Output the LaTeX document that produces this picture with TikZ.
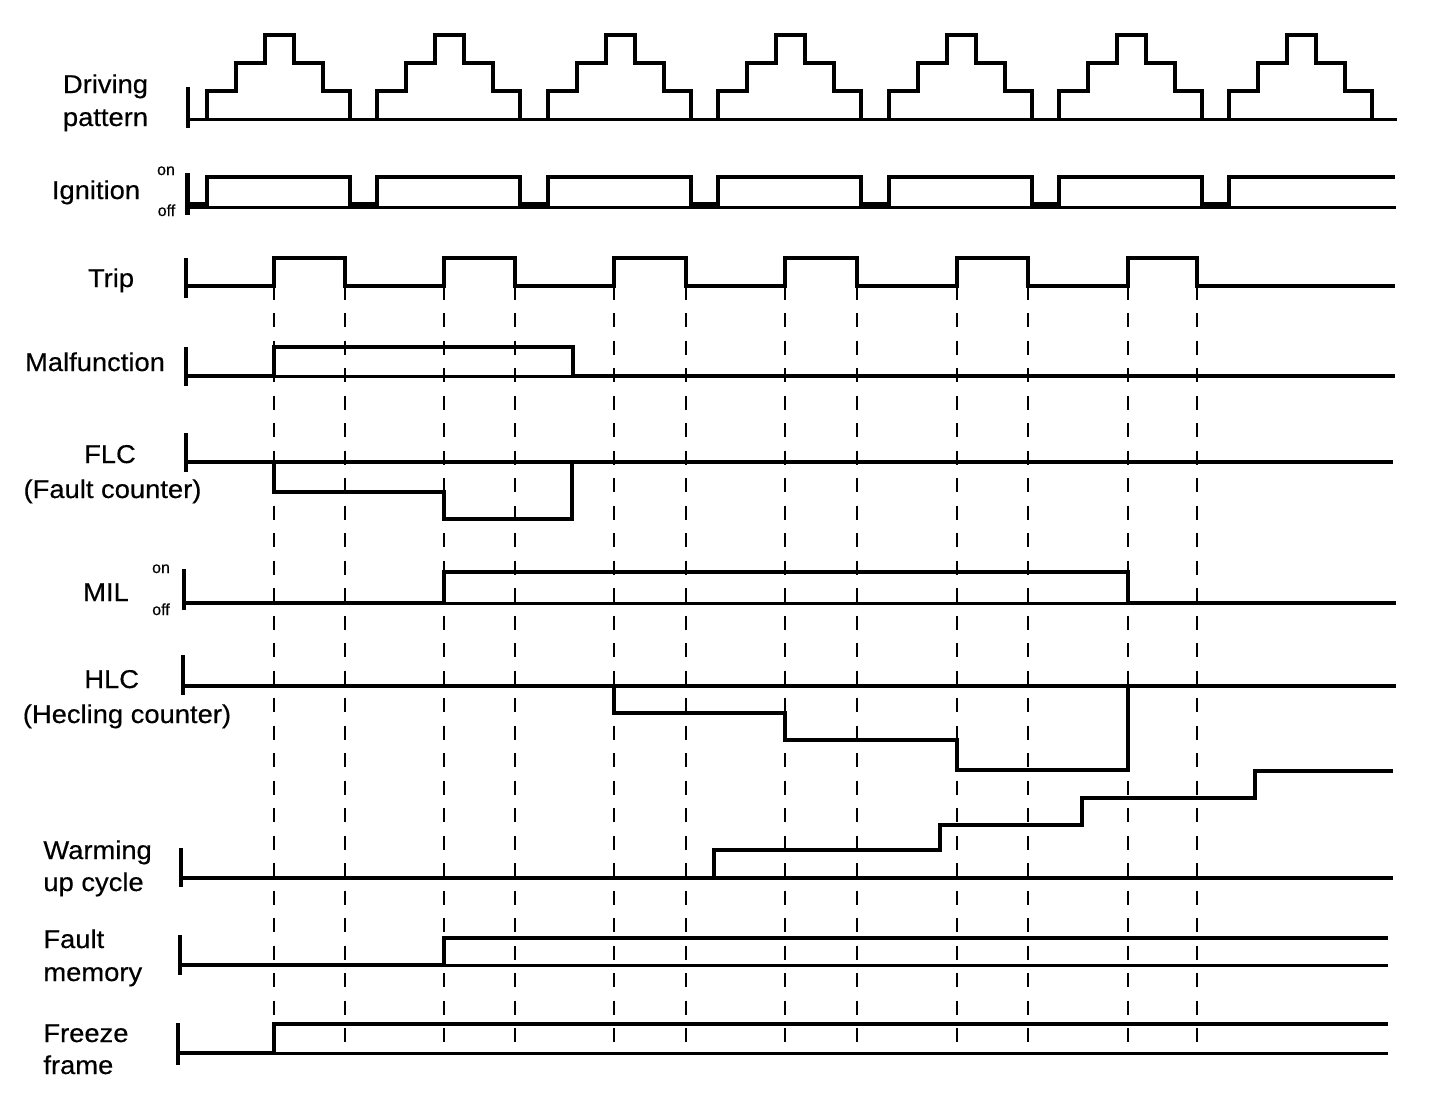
\documentclass[tikz,border=0pt]{standalone}
\usepackage{fontspec}
\setmainfont{Liberation Sans}[FakeStretch=1.06,FakeBold=0.4]
\newfontfamily\smallfont{Liberation Sans}[FakeBold=0.3]
\begin{document}
\begin{tikzpicture}[x=0.5pt,y=-0.5pt,
  sig/.style={line width=2pt},
  base/.style={line width=1.5pt},
  tick/.style={line width=2.1pt},
  guide/.style={line width=1.25pt, dash pattern=on 7pt off 6.75pt},
  lbl/.style={font=\fontsize{12.9pt}{14pt}\selectfont, anchor=base, inner sep=0pt},
  lbll/.style={lbl, anchor=base west},
  onoff/.style={font=\smallfont\fontsize{8pt}{9pt}\selectfont, anchor=base, inner sep=0pt}]
\fill[white] (0,0) rectangle (1440,1094);
\useasboundingbox (0,0) rectangle (1440,1094);

% ---------- labels ----------
\node[lbl] (drv1) at (105.5,93) {Driving};
\node[lbl] (drv2) at (105.5,126) {pattern};
\node[lbl] (ign) at (96,199) {Ignition};
\node[onoff] (ignon) at (166,175) {on};
\node[onoff] (ignoff) at (166.5,216) {off};
\node[lbl] (trip) at (111,287) {Trip};
\node[lbl] (malf) at (95,371) {Malfunction};
\node[lbl] (flc1) at (110,463) {FLC};
\node[lbl] (flc2) at (112.5,498) {(Fault counter)};
\node[lbl] (mil) at (106,601) {MIL};
\node[onoff] (milon) at (161,573) {on};
\node[onoff] (miloff) at (161,615) {off};
\node[lbl] (hlc1) at (111.7,688) {HLC};
\node[lbl] (hlc2) at (127,723) {(Hecling counter)};
\node[lbll] (wu1) at (43,859) {Warming};
\node[lbll] (wu2) at (43,891) {up cycle};
\node[lbll] (fm1) at (43,948) {Fault};
\node[lbll] (fm2) at (43,981) {memory};
\node[lbll] (ff1) at (43,1042) {Freeze};
\node[lbll] (ff2) at (43,1074) {frame};

% ---------- dashed guides ----------
\foreach \t in {274,345,444,515,614,686,785,857,957,1028,1128,1197}
  \draw[guide] (\t,258) -- (\t,1043);

% ---------- Driving pattern ----------
\draw[tick] (188,87) -- (188,128);
\draw[base] (188,119.5) -- (1397,119.5);
\foreach \s in {207,377.4,547.8,718.2,888.6,1059,1229.4}
  \draw[sig] (\s,119.5) |- ({\s+29},91) |- ({\s+58},63) |- ({\s+87},35)
     |- ({\s+116},63) |- ({\s+143},91) -- ({\s+143},119.5);

% ---------- Ignition ----------
\draw[tick] (187.5,173) -- (187.5,215);
\draw[base] (187.5,207.5) -- (1396,207.5);
\draw[sig] (187.5,204) -| (207,177) -| (350,204) -| (377.4,177) -| (520.4,204)
  -| (547.8,177) -| (690.8,204) -| (718.2,177) -| (861.2,204) -| (888.6,177)
  -| (1031.6,204) -| (1059,177) -| (1202,204) -| (1229.4,177) -- (1395,177);

% ---------- Trip ----------
\draw[tick] (186,258) -- (186,298);
\draw[sig] (186,286) -| (274,258) -| (345,286) -| (444,258) -| (515,286)
  -| (614,258) -| (686,286) -| (785,258) -| (857,286) -| (957,258)
  -| (1028,286) -| (1128,258) -| (1197,286) -- (1395,286);

% ---------- Malfunction ----------
\draw[tick] (186,347) -- (186,386);
\draw[base] (186,376) -- (1395,376);
\draw[sig] (186,376) -- (274,376) |- (573,347) -- (573,376) -- (1395,376);

% ---------- FLC ----------
\draw[tick] (186,433) -- (186,472);
\draw[sig] (186,462) -- (1393,462);
\draw[sig] (274,462) |- (444,491.7) |- (572,519.3) -- (572,462);

% ---------- MIL ----------
\draw[tick] (184,569) -- (184,610);
\draw[base] (184,603) -- (1396,603);
\draw[sig] (184,603) -- (444,603) |- (1128,572) -- (1128,603) -- (1396,603);

% ---------- HLC ----------
\draw[tick] (183,655) -- (183,695);
\draw[sig] (183,686) -- (1396,686);
\draw[sig] (614,686) |- (785,713) |- (957,740) |- (1128,770) -- (1128,686);

% ---------- Warming up cycle ----------
\draw[tick] (181,848) -- (181,887);
\draw[sig] (181,878) -- (1393,878);
\draw[sig] (714,878) |- (940,850) |- (1082,825) |- (1255,798) |- (1393,771);

% ---------- Fault memory ----------
\draw[tick] (180,935) -- (180,975);
\draw[base] (180,965) -- (1388,965);
\draw[sig] (180,965) -- (444,965) |- (1388,938);

% ---------- Freeze frame ----------
\draw[tick] (178,1023) -- (178,1065);
\draw[base] (178,1053) -- (1388,1053);
\draw[sig] (178,1053) -- (274,1053) |- (1388,1024);
\end{tikzpicture}
\end{document}
